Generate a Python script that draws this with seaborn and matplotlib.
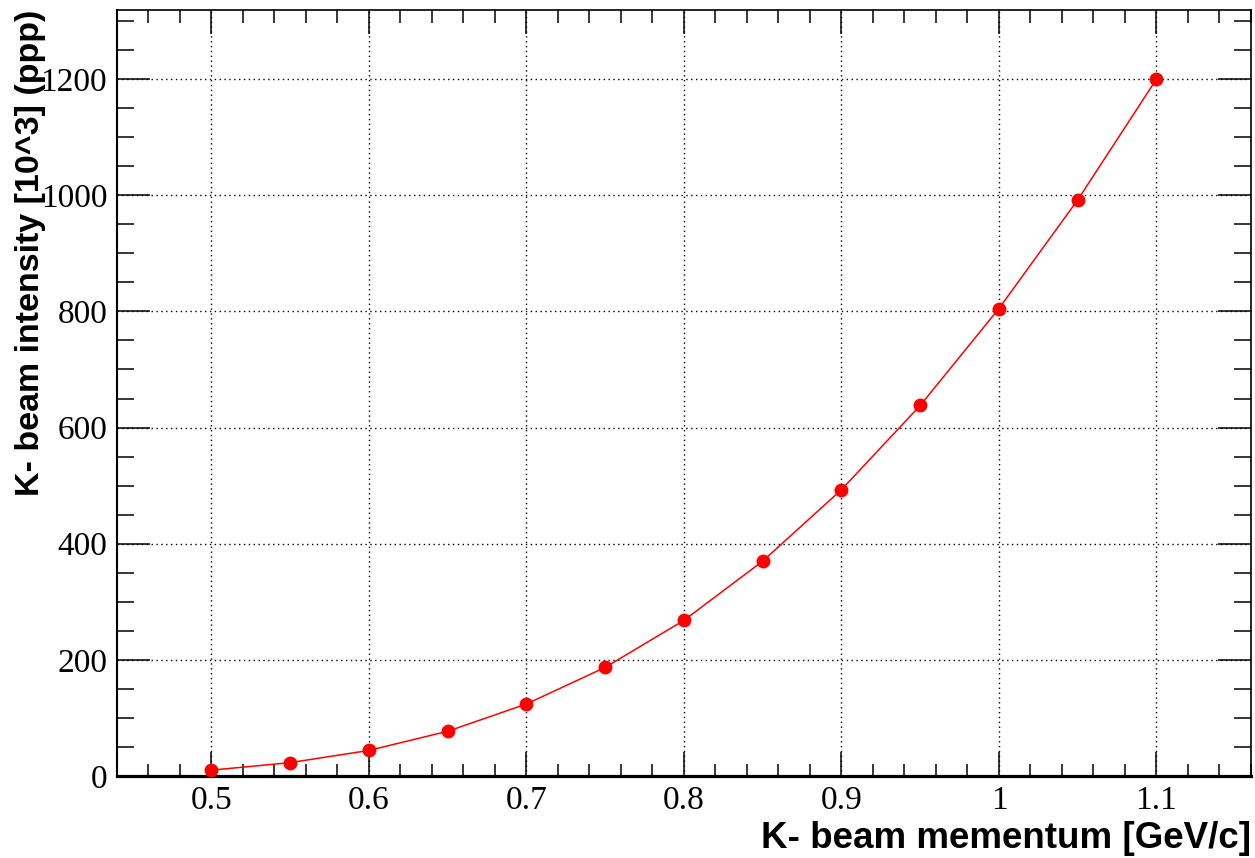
# kbeam_intensity.py

import matplotlib
matplotlib.use("Agg")
import pandas as pd
import seaborn as sns
import matplotlib.pyplot as plt
from matplotlib.ticker import MultipleLocator

# K- beam momentum [GeV/c] and intensity [10^3 ppp]
momentum = [0.50, 0.55, 0.60, 0.65, 0.70, 0.75, 0.80, 0.85, 0.90, 0.95, 1.00, 1.05, 1.10]
intensity = [10, 23, 44, 77, 124, 187, 268, 370, 493, 638, 805, 992, 1200]

x_label = "K- beam mementum [GeV/c]"
y_label = "K- beam intensity [10^3] (ppp)"


def plot_beam_curve(df: pd.DataFrame, output_file: str) -> None:
    sns.set_style("ticks")
    plt.rcParams["font.family"] = ["Liberation Serif", "DejaVu Serif"]

    fig = plt.figure(figsize=(12.55, 8.58), dpi=100)
    ax = fig.add_axes([0.0932, 0.0956, 0.9036, 0.8927])

    sns.lineplot(data=df, x="momentum", y="intensity", ax=ax,
                 color="#ff0000", linewidth=1.1, marker="o", markersize=10,
                 markeredgewidth=0, zorder=3)

    ax.xaxis.set_major_locator(MultipleLocator(0.1))
    ax.xaxis.set_minor_locator(MultipleLocator(0.02))
    ax.yaxis.set_major_locator(MultipleLocator(200))
    ax.yaxis.set_minor_locator(MultipleLocator(50))
    ax.set_xticks(ax.get_xticks())
    ax.set_xticklabels(["%g" % t for t in ax.get_xticks()])
    ax.set_xlim(0.44, 1.16)
    ax.set_ylim(0, 1319)

    ax.tick_params(axis="both", which="both", direction="in", top=True, right=True,
                   colors="black", labelsize=24, width=1.1)
    ax.tick_params(axis="x", which="major", length=17, pad=7)
    ax.tick_params(axis="x", which="minor", length=9)
    ax.tick_params(axis="y", which="major", length=24, pad=7)
    ax.tick_params(axis="y", which="minor", length=12)

    ax.grid(True, which="major", color="black", linestyle=(0, (1, 2.5)), linewidth=1.0)

    for side, lw in [("bottom", 2.3), ("left", 1.5), ("top", 1.2), ("right", 1.2)]:
        ax.spines[side].set_linewidth(lw)
        ax.spines[side].set_color("black")

    ax.set_xlabel(x_label, fontsize=26.5, fontweight="bold", color="black",
                  family=["Liberation Sans", "DejaVu Sans"])
    ax.xaxis.set_label_coords(1.0, -0.082)
    ax.xaxis.label.set_ha("right")
    ax.xaxis.label.set_va("center")

    ax.set_ylabel(y_label, fontsize=24.5, fontweight="bold", color="black",
                  family=["Liberation Sans", "DejaVu Sans"])
    ax.yaxis.set_label_coords(-0.076, 1.0)
    ax.yaxis.label.set_ha("right")
    ax.yaxis.label.set_va("center")

    fig.savefig(output_file, dpi=100)


df = pd.DataFrame({"momentum": momentum, "intensity": intensity})
plot_beam_curve(df, "out.png")
